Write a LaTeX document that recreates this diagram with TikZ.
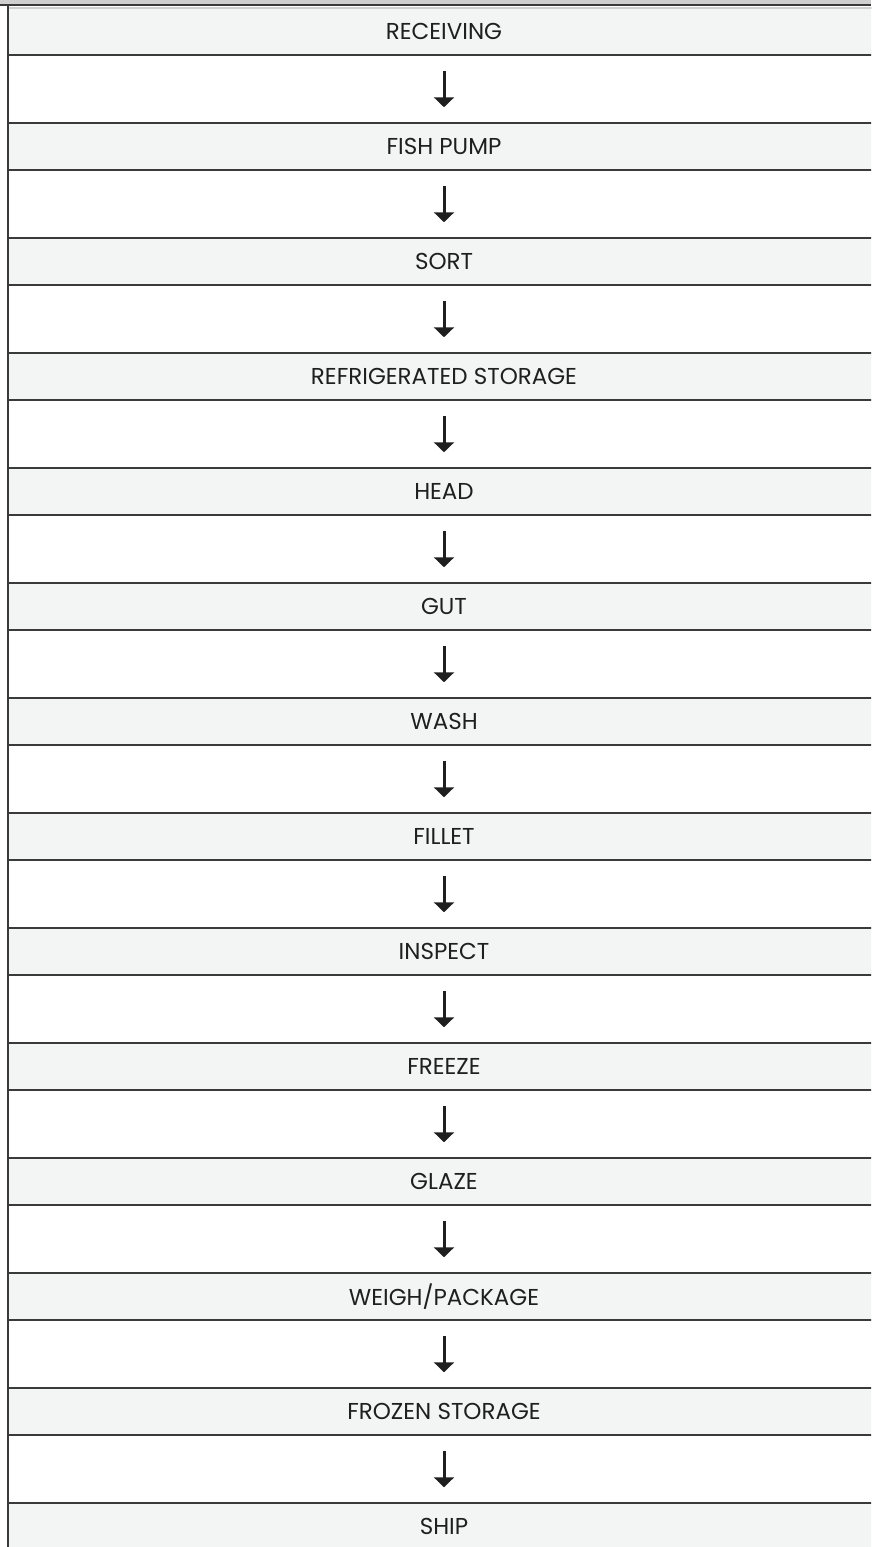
\documentclass[tikz,border=0pt]{standalone}
\usepackage{fontspec}
\setmainfont{Poppins}
\usetikzlibrary{arrows.meta}
\definecolor{rowgray}{HTML}{F3F4F4}
\definecolor{rulegray}{HTML}{3A3A3A}
\definecolor{topgray}{HTML}{CFCFCF}
\tikzset{
  stage/.style={rectangle, draw=rulegray, line width=1.5pt, fill=rowgray,
    minimum width=872pt, minimum height=47pt, inner sep=0pt,
    font=\fontsize{23}{27}\selectfont, text=black!88},
  flow/.style={<-, >={Triangle[width=20pt,length=10pt]}, line width=3pt,
    draw=black!88, shorten <=15pt, shorten >=15pt}
}
\begin{document}
\begin{tikzpicture}[x=1pt,y=-1pt]
\clip (0,0) rectangle (871,1547);
\fill[topgray] (0,0) rectangle (871,4);
\node (receiving) at (444,31.5) [stage] {RECEIVING};
\node (fishpump) at (444,146.5) [stage] {FISH PUMP}	edge[flow] (receiving);
\node (sort) at (444,261.5) [stage] {SORT}	edge[flow] (fishpump);
\node (refrig) at (444,376.5) [stage] {REFRIGERATED STORAGE}	edge[flow] (sort);
\node (head) at (444,491.5) [stage] {HEAD}	edge[flow] (refrig);
\node (gut) at (444,606.5) [stage] {GUT}	edge[flow] (head);
\node (wash) at (444,721.5) [stage] {WASH}	edge[flow] (gut);
\node (fillet) at (444,836.5) [stage] {FILLET}	edge[flow] (wash);
\node (inspect) at (444,951.5) [stage] {INSPECT}	edge[flow] (fillet);
\node (freeze) at (444,1066.5) [stage] {FREEZE}	edge[flow] (inspect);
\node (glaze) at (444,1181.5) [stage] {GLAZE}	edge[flow] (freeze);
\node (weigh) at (444,1296.5) [stage] {WEIGH/PACKAGE}	edge[flow] (glaze);
\node (frozen) at (444,1411.5) [stage] {FROZEN STORAGE}	edge[flow] (weigh);
\node (ship) at (444,1526.5) [stage] {SHIP}	edge[flow] (frozen);
\draw[rulegray, line width=2pt] (0,5) -- (871,5);
\draw[topgray, line width=1.5pt] (8.8,8) -- (871,8);
\draw[rulegray, line width=1.7pt] (8,4) -- (8,1547);
\end{tikzpicture}
\end{document}
